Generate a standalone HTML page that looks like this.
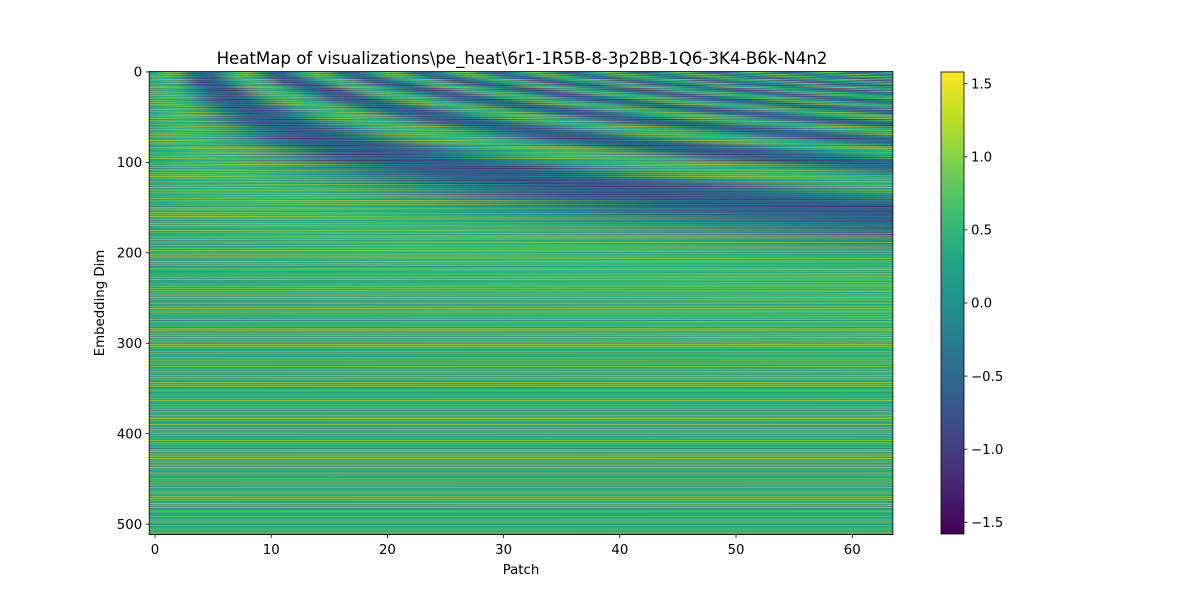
<!DOCTYPE html>
<html>
<head>
<meta charset="utf-8">
<style>
  html,body{margin:0;padding:0;background:#fff;}
  #wrap{position:relative;width:1200px;height:600px;overflow:hidden;font-family:"DejaVu Sans","Liberation Sans",sans-serif;}
  #heat{position:absolute;left:149.2px;top:71.5px;width:743.7px;height:463px;}
  #cbar{position:absolute;left:941px;top:72px;width:23px;height:462px;}
  svg{position:absolute;left:0;top:0;}
  text{font-family:"DejaVu Sans","Liberation Sans",sans-serif;fill:#000;}
</style>
</head>
<body>
<div id="wrap">
  <canvas id="heat" width="64" height="512"></canvas>
  <canvas id="cbar" width="1" height="256"></canvas>
  <svg id="ov" width="1200" height="600"></svg>
</div>
<script>
// ---- data ----
const nPatches = 64;
const nDims = 512;
const xTicks = [0,10,20,30,40,50,60];
const yTicks = [0,100,200,300,400,500];
const cbTicks = [-1.5,-1.0,-0.5,0.0,0.5,1.0,1.5];
const cbTickLabels = ["\u22121.5","\u22121.0","\u22120.5","0.0","0.5","1.0","1.5"];
const vmin = -1.58, vmax = 1.58;
// learned per-dimension offsets (cycled over dims)
const dimOffsets = [0.35,-0.25,0.55,-0.1,0.2,0.45,-0.3,0.1,0.6,-0.05,0.3,-0.2,0.5,0.0,-0.35,0.4,
  0.15,0.55,-0.15,0.25,-0.3,0.45,0.05,0.35,-0.25,0.6,0.1,-0.1,0.5,0.2,-0.35,0.3,
  0.0,0.4,-0.2,0.55,0.15,-0.05,0.35,-0.3,0.25,0.5,-0.15,0.1,0.45,-0.25,0.3,0.05,
  0.6,-0.1,0.2,0.4,-0.35,0.15,0.5,0.0,-0.2,0.35,0.25,-0.3,0.55,0.1,-0.05,0.45,0.3,-0.15,0.2];
const viridis = ["#440154","#482475","#414487","#355f8d","#2a788e","#21918c","#22a884","#44bf70","#7ad151","#bddf26","#fde725"];

// ---- helpers ----
function hex(c){return [parseInt(c.slice(1,3),16),parseInt(c.slice(3,5),16),parseInt(c.slice(5,7),16)];}
const stops = viridis.map(hex);
function cmap(v){
  let t=(v-vmin)/(vmax-vmin); t=Math.max(0,Math.min(1,t));
  const f=t*(stops.length-1), i=Math.min(stops.length-2,Math.floor(f)), r=f-i;
  return stops[i].map((a,k)=>Math.round(a+(stops[i+1][k]-a)*r));
}
function value(pos,d){
  const w = Math.pow(10000,-(2*Math.floor(d/2))/nDims);
  const base = d%2===0 ? Math.sin(pos*w) : Math.cos(pos*w);
  return base*0.9 + (dimOffsets[d%dimOffsets.length]-0.2)*1.0;
}

// ---- heatmap ----
const hc=document.getElementById('heat').getContext('2d');
const img=hc.createImageData(nPatches,nDims);
for(let d=0;d<nDims;d++)for(let p=0;p<nPatches;p++){
  const c=cmap(value(p,d)), o=(d*nPatches+p)*4;
  img.data[o]=c[0];img.data[o+1]=c[1];img.data[o+2]=c[2];img.data[o+3]=255;
}
hc.putImageData(img,0,0);

// ---- colorbar ----
const cc=document.getElementById('cbar').getContext('2d');
for(let i=0;i<256;i++){const v=vmax-(i+0.5)/256*(vmax-vmin);const c=cmap(v);
  cc.fillStyle=`rgb(${c[0]},${c[1]},${c[2]})`;cc.fillRect(0,i,1,1);}

// ---- axes ----
const X0=149.2, XW=743.7, Y0=71.5, YH=463;
const xScale=v=>X0+(v+0.5)/nPatches*XW;
const yScale=v=>Y0+(v+0.5)/nDims*YH;
const cbY=v=>72+(vmax-v)/(vmax-vmin)*462;
const svg=document.getElementById('ov');
const NS='http://www.w3.org/2000/svg';
function mk(tag,attrs,text){const e=document.createElementNS(NS,tag);for(const k in attrs)e.setAttribute(k,attrs[k]);if(text!==undefined)e.textContent=text;svg.appendChild(e);return e;}

let e=mk('rect',{x:X0,y:Y0,width:XW,height:YH,fill:'none',stroke:'#000','stroke-width':0.8});


e=mk('rect',{x:941,y:72,width:23,height:462,fill:'none',stroke:'#000','stroke-width':0.8});



xTicks.forEach(v=>{const x=xScale(v);
  mk('line',{x1:x,x2:x,y1:Y0+YH,y2:Y0+YH+3.5,stroke:'#000','stroke-width':0.8});
  e=mk('text',{x:x,y:554,'font-size':13.3,'text-anchor':'middle'},String(v));
  
  
});
yTicks.forEach(v=>{const y=yScale(v);
  mk('line',{x1:X0-3.5,x2:X0,y1:y,y2:y,stroke:'#000','stroke-width':0.8});
  e=mk('text',{x:X0-7,y:y+4.7,'font-size':13.3,'text-anchor':'end'},String(v));
  
  
});
cbTicks.forEach((v,i)=>{const y=cbY(v);
  mk('line',{x1:964,x2:967.5,y1:y,y2:y,stroke:'#000','stroke-width':0.8});
  e=mk('text',{x:971,y:y+4.7,'font-size':13.3},cbTickLabels[i]);
  
  
});
e=mk('text',{x:521,y:574,'font-size':13.3,'text-anchor':'middle'},'Patch');


e=mk('text',{x:104,y:303,'font-size':13.3,'text-anchor':'middle',transform:'rotate(-90 104 303)'},'Embedding Dim');


e=mk('text',{x:522,y:64,'font-size':16.6,'text-anchor':'middle'},'HeatMap of visualizations\\pe_heat\\6r1-1R5B-8-3p2BB-1Q6-3K4-B6k-N4n2');


</script>
</body>
</html>
